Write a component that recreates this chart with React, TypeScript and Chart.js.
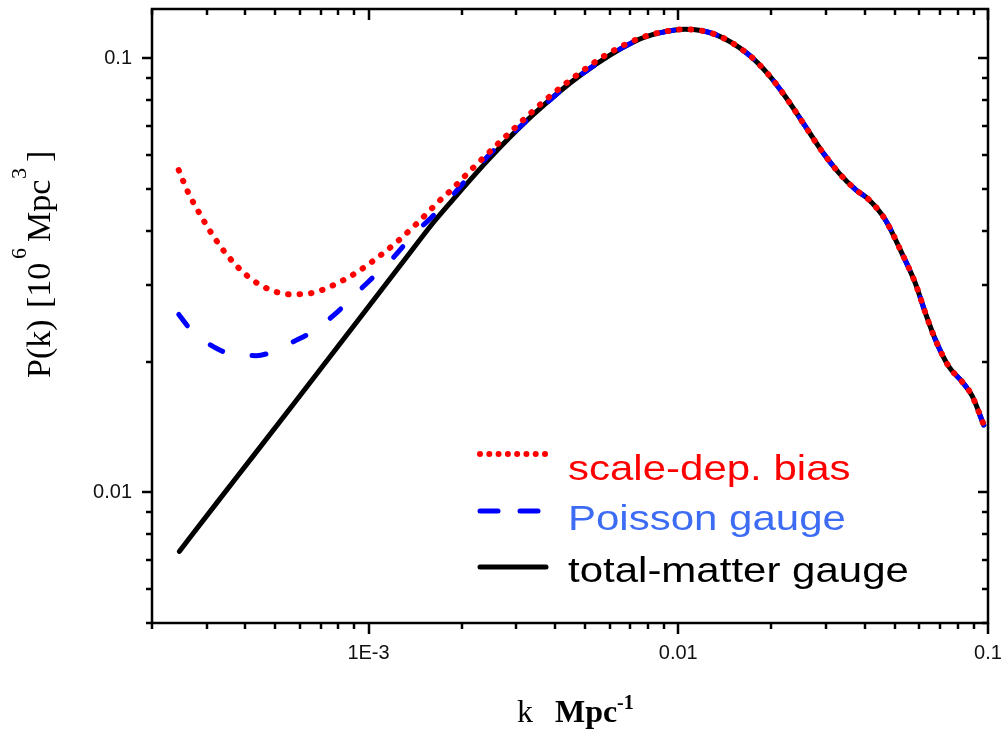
import React, { useEffect, useRef } from "react";
import { Chart, registerables } from "chart.js";

Chart.register(...registerables);

// ---- data (k in Mpc^-1, P in 10^6 Mpc^3) ----
const kTotal = [2.45e-4, 3.26e-4, 4.18e-4, 5.77e-4, 9.47e-4, 1.34e-3, 1.634e-3, 1.85e-3, 2.49e-3, 3.36e-3, 4.87e-3, 7.25e-3, 8.7e-3, 0.01052, 0.01315, 0.01686, 0.01955, 0.02213, 0.0257, 0.0291, 0.033, 0.0373, 0.0412, 0.0466, 0.0527, 0.0582, 0.0628, 0.0676, 0.0747, 0.0824, 0.0888, 0.0969];
const pTotal = [0.00731, 0.00952, 0.01196, 0.01609, 0.02545, 0.03514, 0.0422, 0.0468, 0.0594, 0.0736, 0.0919, 0.1096, 0.1145, 0.1167, 0.1136, 0.1021, 0.0918, 0.0818, 0.0698, 0.0611, 0.0545, 0.0499, 0.0473, 0.0425, 0.0356, 0.0304, 0.0259, 0.0225, 0.0195, 0.018, 0.0167, 0.0143];

const kPoisson = [2.44e-4, 2.67e-4, 3.26e-4, 3.65e-4, 4.34e-4, 4.91e-4, 5.83e-4, 6.61e-4, 7.96e-4, 8.79e-4, 1.072e-3, 1.2e-3, 1.41e-3, 1.596e-3, 1.897e-3, 2.096e-3, 2.49e-3, 2.82e-3];
const pPoisson = [0.0257, 0.0237, 0.0214, 0.0208, 0.02066, 0.0211, 0.0224, 0.0235, 0.0261, 0.028, 0.0321, 0.0347, 0.0396, 0.043, 0.049, 0.0531, 0.0606, 0.0656];

const kBias = [2.44e-4, 2.61e-4, 2.84e-4, 3.13e-4, 3.51e-4, 4.07e-4, 4.76e-4, 5.6e-4, 6.56e-4, 7.68e-4, 8.95e-4, 1.055e-3, 1.236e-3, 1.445e-3, 1.69e-3, 1.83e-3, 2.14e-3, 2.93e-3, 3.71e-3, 4.69e-3, 5.94e-3, 7.61e-3, 9.64e-3];
const pBias = [0.0553, 0.0493, 0.0441, 0.0393, 0.0351, 0.0315, 0.0294, 0.0286, 0.0288, 0.03, 0.0318, 0.0345, 0.0378, 0.0419, 0.0469, 0.0494, 0.0553, 0.0686, 0.08, 0.0914, 0.1026, 0.1117, 0.1162];

const seriesNames = ["scale-dep. bias", "Poisson gauge", "total-matter gauge"];

const xMajorTicks = [1e-3, 0.01, 0.1];
const xTickLabels = ["1E-3", "0.01", "0.1"];
const yMajorTicks = [0.01, 0.1];
const yTickLabels = ["0.01", "0.1"];

const X_MIN = 2e-4;
const X_MAX = 0.1;
const Y_MIN = 0.005;
const Y_MAX = 0.13;

// ---- helpers ----
function logTicks(min: number, max: number): number[] {
  const out: number[] = [];
  const e0 = Math.floor(Math.log10(min));
  const e1 = Math.ceil(Math.log10(max));
  for (let e = e0; e <= e1; e++) {
    for (let m = 1; m <= 9; m++) {
      const v = parseFloat((m * Math.pow(10, e)).toPrecision(6));
      if (v >= min * 0.9999 && v <= max * 1.0001) out.push(v);
    }
  }
  return out;
}
const xAllTicks = logTicks(X_MIN, X_MAX);
const yAllTicks = logTicks(Y_MIN, Y_MAX);

function labelFor(v: number, majors: number[], labels: string[]): string {
  for (let i = 0; i < majors.length; i++) {
    if (Math.abs(Math.log10(v) - Math.log10(majors[i])) < 1e-6) return labels[i];
  }
  return "";
}
const isMajor = (v: number) => Math.abs(Math.log10(v) - Math.round(Math.log10(v))) < 1e-6;

const toPts = (ks: number[], ps: number[]) => ks.map((k, i) => ({ x: k, y: ps[i] }));
const totalAfter = (k0: number) => toPts(kTotal, pTotal).filter((p) => p.x > k0);

const SANS = '"Liberation Sans", Arial, Helvetica, sans-serif';
const SERIF = '"Liberation Serif", "Times New Roman", serif';

const decoPlugin = {
  id: "deco",
  afterDraw(chart: any) {
    const { ctx, chartArea, scales } = chart;
    const { left, right, top, bottom } = chartArea;
    const x = scales.x;
    const y = scales.y;
    ctx.save();
    ctx.strokeStyle = "#000";
    ctx.lineWidth = 2.5;
    ctx.lineCap = "butt";
    const seg = (x1: number, y1: number, x2: number, y2: number) => {
      ctx.beginPath();
      ctx.moveTo(x1, y1);
      ctx.lineTo(x2, y2);
      ctx.stroke();
    };
    // frame
    ctx.lineJoin = "miter";
    ctx.strokeRect(left, top, right - left, bottom - top);
    // x ticks: outward at bottom, inward at top
    for (const v of xAllTicks) {
      const px = Math.round(x.getPixelForValue(v));
      const maj = isMajor(v);
      seg(px, bottom, px, bottom + (maj ? 11 : 6));
      seg(px, top, px, top + (maj ? 11 : 6));
    }
    // y ticks: outward at left, inward at right
    for (const v of yAllTicks) {
      const py = Math.round(y.getPixelForValue(v));
      const maj = isMajor(v);
      seg(left, py, left - (maj ? 10 : 6), py);
      seg(right, py, right - (maj ? 10 : 6), py);
    }

    // x axis title: k  Mpc^-1
    ctx.fillStyle = "#000";
    ctx.textBaseline = "alphabetic";
    ctx.textAlign = "left";
    ctx.font = `32px ${SERIF}`;
    ctx.fillText("k", 517, 722);
    ctx.font = `bold 32px ${SERIF}`;
    ctx.fillText("Mpc", 555, 722);
    ctx.font = `bold 20px ${SERIF}`;
    ctx.fillText("-1", 617, 709);

    // y axis title: P(k) [10^6 Mpc^3]
    ctx.save();
    ctx.translate(50, 0);
    ctx.rotate(-Math.PI / 2);
    const piece = (t: string, screenY: number, size: number, raise: number) => {
      ctx.font = `${size}px ${SERIF}`;
      ctx.fillText(t, -screenY, -raise);
    };
    piece("P(k)", 378, 34, 0);
    piece("[10", 308, 34, 0);
    piece("6", 259, 22, 24);
    piece("Mpc", 242, 34, 0);
    piece("3", 179, 22, 24);
    piece("]", 162, 34, 0);
    ctx.restore();

    // legend
    const lx0 = 478;
    const lx1 = 547;
    // red dots
    ctx.fillStyle = "#ff0000";
    for (let i = 0; i < 8; i++) {
      ctx.beginPath();
      ctx.arc(lx0 + 2 + i * ((lx1 - lx0 - 4) / 7), 454, 3, 0, Math.PI * 2);
      ctx.fill();
    }
    // blue dashes
    ctx.strokeStyle = "#0000ff";
    ctx.lineWidth = 5;
    ctx.lineCap = "round";
    seg(480, 511, 498, 511);
    seg(520, 511, 538, 511);
    // black line
    ctx.strokeStyle = "#000";
    ctx.lineCap = "round";
    seg(480, 567, 546, 567);

    const txt = (t: string, bx: number, by: number, color: string) => {
      ctx.save();
      ctx.fillStyle = color;
      ctx.font = `35px ${SANS}`;
      ctx.translate(bx, by);
      ctx.scale(1.2, 1);
      ctx.fillText(t, 0, 0);
      ctx.restore();
    };
    txt(seriesNames[0], 568, 480, "#ff0000");
    txt(seriesNames[1], 568, 530, "#3d6cf4");
    txt(seriesNames[2], 568, 582, "#000000");
    ctx.restore();
  },
};

export default function App() {
  const canvasRef = useRef<HTMLCanvasElement | null>(null);

  useEffect(() => {
    const canvas = canvasRef.current;
    if (!canvas) return;
    const chart = new Chart(canvas, {
      type: "line",
      data: {
        datasets: [
          {
            label: seriesNames[0],
            data: [...toPts(kBias, pBias), ...totalAfter(9.64e-3)],
            borderColor: "#ff0000",
            borderWidth: 6,
            borderDash: [0.5, 11],
            borderCapStyle: "round",
            pointRadius: 0,
            cubicInterpolationMode: "monotone",
            fill: false,
          },
          {
            label: seriesNames[1],
            data: [...toPts(kPoisson, pPoisson), ...totalAfter(2.82e-3)],
            borderColor: "#0000ff",
            borderWidth: 5,
            borderDash: [14, 30],
            borderCapStyle: "round",
            pointRadius: 0,
            cubicInterpolationMode: "monotone",
            fill: false,
          },
          {
            label: seriesNames[2],
            data: toPts(kTotal, pTotal),
            borderColor: "#000000",
            borderWidth: 5,
            borderCapStyle: "round",
            pointRadius: 0,
            cubicInterpolationMode: "monotone",
            fill: false,
          },
        ],
      },
      options: {
        responsive: false,
        animation: false,
        devicePixelRatio: 1,
        layout: { padding: { top: 9, right: 15, bottom: 0, left: 0 } },
        plugins: {
          legend: { display: false },
          tooltip: { enabled: false },
        },
        scales: {
          x: {
            type: "logarithmic",
            min: X_MIN,
            max: X_MAX,
            grid: { display: false, drawTicks: false },
            border: { display: false },
            afterBuildTicks: (s: any) => {
              s.ticks = xAllTicks.map((v) => ({ value: v }));
            },
            afterFit: (s: any) => {
              s.height = 107;
              s.paddingLeft = 0;
              s.paddingRight = 0;
            },
            ticks: {
              autoSkip: false,
              maxRotation: 0,
              minRotation: 0,
              padding: 18,
              color: "#111",
              font: { family: SANS, size: 20 },
              callback: (v: any) => labelFor(Number(v), xMajorTicks, xTickLabels),
            },
          },
          y: {
            type: "logarithmic",
            min: Y_MIN,
            max: Y_MAX,
            grid: { display: false, drawTicks: false },
            border: { display: false },
            afterBuildTicks: (s: any) => {
              s.ticks = yAllTicks.map((v) => ({ value: v }));
            },
            afterFit: (s: any) => {
              s.width = 152;
              s.paddingTop = 0;
              s.paddingBottom = 0;
            },
            ticks: {
              autoSkip: false,
              padding: 20,
              color: "#111",
              font: { family: SANS, size: 20 },
              callback: (v: any) => labelFor(Number(v), yMajorTicks, yTickLabels),
            },
          },
        },
      } as any,
      plugins: [decoPlugin],
    });
    return () => chart.destroy();
  }, []);

  return (
    <div style={{ position: "fixed", left: 0, top: 0, width: 1003, height: 730, background: "#fff" }}>
      <canvas ref={canvasRef} width={1003} height={730} style={{ display: "block", width: 1003, height: 730 }} />
    </div>
  );
}
